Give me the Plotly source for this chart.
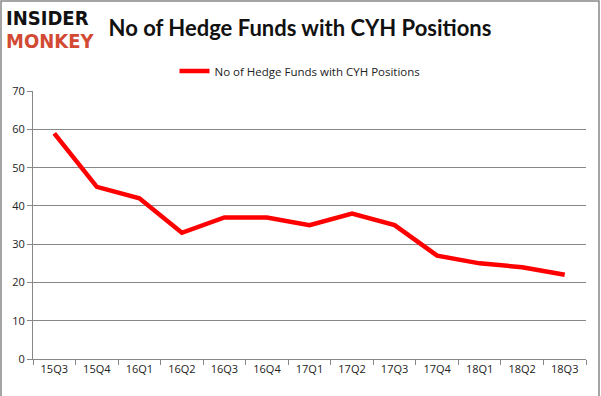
import plotly.graph_objects as go

categories = ["15Q3", "15Q4", "16Q1", "16Q2", "16Q3", "16Q4", "17Q1",
              "17Q2", "17Q3", "17Q4", "18Q1", "18Q2", "18Q3"]
values = [59, 45, 42, 33, 37, 37, 35, 38, 35, 27, 25, 24, 22]
series_name = "No of Hedge Funds with CYH Positions"
title_text = "No of Hedge Funds with CYH Positions"
y_ticks = [0, 10, 20, 30, 40, 50, 60, 70]

W, H = 601, 396
L, R, T, B = 33, 15, 91, 37
pw, ph = W - L - R, H - T - B

fig = go.Figure()
fig.add_trace(go.Scatter(
    x=categories, y=values, mode="lines", name=series_name,
    line=dict(color="#ff0000", width=4.5),
))

fig.update_layout(
    width=W, height=H,
    margin=dict(l=L, r=R, t=T, b=B),
    paper_bgcolor="white", plot_bgcolor="white",
    showlegend=True,
    legend=dict(orientation="h", x=(300 - L) / pw, xanchor="center", y=1 + (T - 71) / ph,
                yanchor="middle", itemwidth=30,
                font=dict(family="Open Sans, DejaVu Sans, sans-serif", size=11.5, color="#222"),
                bgcolor="rgba(0,0,0,0)"),
    title=dict(text="<b>" + title_text + "</b>", x=300 / W, xanchor="center",
               y=1 - 28 / H, yanchor="middle",
               font=dict(family="Lato, Carlito, sans-serif", size=22, color="#111")),
    font=dict(family="Open Sans, DejaVu Sans, sans-serif", size=11, color="#222"),
)

fig.update_xaxes(
    type="category", range=[-0.5, 12.5], tickson="boundaries", ticks="outside", ticklen=5,
    tickcolor="#888", showline=True, linecolor="#888", linewidth=1,
    showgrid=False, tickfont=dict(size=11, color="#222"),
)
fig.update_yaxes(
    range=[0, 70.05], tickvals=y_ticks, ticks="outside", ticklen=5, tickcolor="#888",
    showline=True, linecolor="#888", linewidth=1,
    showgrid=True, gridcolor="#888", gridwidth=1, zeroline=False,
    tickfont=dict(size=11, color="#222"),
)

# outer border
fig.add_shape(type="rect", xref="paper", yref="paper",
              x0=(1 - L) / pw, x1=(W - 2 - L) / pw,
              y0=(B - (H - 2)) / ph, y1=1 + (T - 1) / ph,
              line=dict(color="#888", width=1.5), fillcolor="rgba(0,0,0,0)", layer="below")

# logo
logo_font = "Liberation Sans Narrow, DejaVu Sans Condensed, Arial Narrow, sans-serif"
fig.add_annotation(text="<b>INSIDER</b>", xref="paper", yref="paper",
                   x=(4 - L) / pw, xanchor="left", y=1 + (T - 18) / ph, yanchor="middle",
                   showarrow=False, font=dict(family=logo_font, size=20, color="#111"))
fig.add_annotation(text="<b>MONKEY</b>", xref="paper", yref="paper",
                   x=(4 - L) / pw, xanchor="left", y=1 + (T - 41) / ph, yanchor="middle",
                   showarrow=False, font=dict(family=logo_font, size=20, color="#d24a34"))

fig.write_html("out.html", config={"displayModeBar": False},
               post_script="document.body.style.margin='0';")
